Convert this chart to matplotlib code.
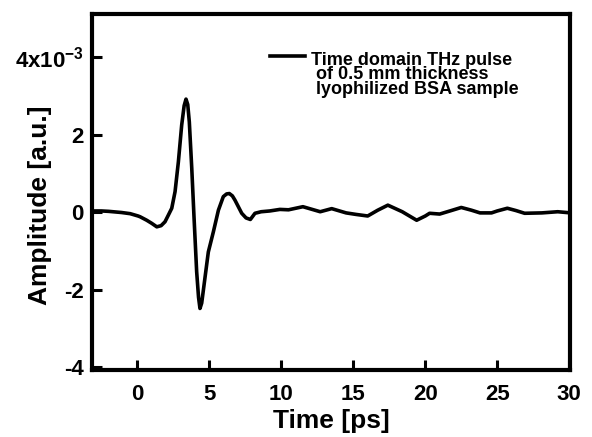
import matplotlib
matplotlib.use("Agg")
import matplotlib.pyplot as plt

# THz time-domain pulse (amplitude in units of 1e-3 a.u.)
time_ps = [-3.1, -2.5, -2.0, -1.1, -0.5, 0.05, 0.19, 0.65, 1.0, 1.35, 1.65, 1.92,
           2.15, 2.39, 2.62, 2.85, 3.08, 3.25, 3.38, 3.5, 3.61, 3.78, 3.94, 4.12,
           4.25, 4.35, 4.47, 4.63, 4.93, 5.28, 5.63, 5.97, 6.2, 6.39, 6.6, 6.78,
           7.25, 7.55, 7.85, 8.17, 8.6, 9.2, 9.9, 10.5, 11.5, 12.7, 13.5, 14.5,
           15.2, 16.0, 16.7, 17.4, 18.4, 19.4, 20.0, 20.3, 21.0, 21.8, 22.5, 23.2,
           23.8, 24.6, 25.0, 25.7, 26.3, 26.9, 28.1, 29.2, 30.1]
amplitude = [0.03, 0.03, 0.02, -0.01, -0.04, -0.10, -0.12, -0.21, -0.29, -0.38, -0.35, -0.25,
             -0.08, 0.10, 0.53, 1.30, 2.25, 2.75, 2.92, 2.78, 2.33, 1.13, -0.16, -1.54,
             -2.20, -2.49, -2.35, -1.89, -1.03, -0.51, 0.05, 0.40, 0.47, 0.48, 0.42, 0.31,
             -0.03, -0.15, -0.19, -0.03, 0.01, 0.03, 0.07, 0.06, 0.14, 0.01, 0.09, -0.02,
             -0.06, -0.10, 0.05, 0.18, 0.01, -0.21, -0.10, -0.03, -0.05, 0.04, 0.12, 0.05,
             -0.02, -0.02, 0.03, 0.10, 0.04, -0.03, -0.02, 0.01, -0.02]

x_ticks = [0, 5, 10, 15, 20, 25, 30]
y_ticks = [-4, -2, 0, 2, 4]
y_tick_labels = ["-4", "-2", "0", "2", r"4x10$^{-3}$"]
legend_text = "Time domain THz pulse\n of 0.5 mm thickness\n lyophilized BSA sample"

plt.rcParams["font.family"] = "Liberation Sans"
plt.rcParams["font.weight"] = "bold"
plt.rcParams["mathtext.fontset"] = "custom"
plt.rcParams["mathtext.rm"] = "Liberation Sans:bold"
plt.rcParams["mathtext.default"] = "rm"

fig = plt.figure(figsize=(5.92, 4.37), dpi=100)
ax = fig.add_axes([0.1554, 0.1533, 0.8074, 0.8147])

line, = ax.plot(time_ps, amplitude, color="black", lw=2.6)

ax.set_xlim(-3.15, 30.05)
ax.set_ylim(-4.08, 5.12)
ax.set_xticks(x_ticks)
ax.set_yticks(y_ticks)
ax.set_yticklabels(y_tick_labels)

for s in ax.spines.values():
    s.set_linewidth(3)
ax.tick_params(direction="in", length=7, width=2.2, labelsize=16)
ax.tick_params(axis="x", pad=10)
ax.tick_params(axis="y", pad=6)

ax.set_xlabel("Time [ps]", fontsize=19, fontweight="bold", labelpad=3)
ax.set_ylabel("Amplitude [a.u.]", fontsize=19, fontweight="bold")
ax.yaxis.set_label_coords(-0.084, 0.4615)

# legend sample line only; the three-line caption is one text block next to it
ax.legend(handles=[line], labels=[""], loc="center left", bbox_to_anchor=(0.372, 0.877),
          frameon=False, borderpad=0, borderaxespad=0, handlelength=1.95,
          handletextpad=0, prop={"size": 13, "weight": "bold"})
ax.text(0.458, 0.893, legend_text, transform=ax.transAxes, fontsize=13,
        fontweight="bold", va="top", ha="left", linespacing=0.8)

fig.savefig("out.png", dpi=100)
